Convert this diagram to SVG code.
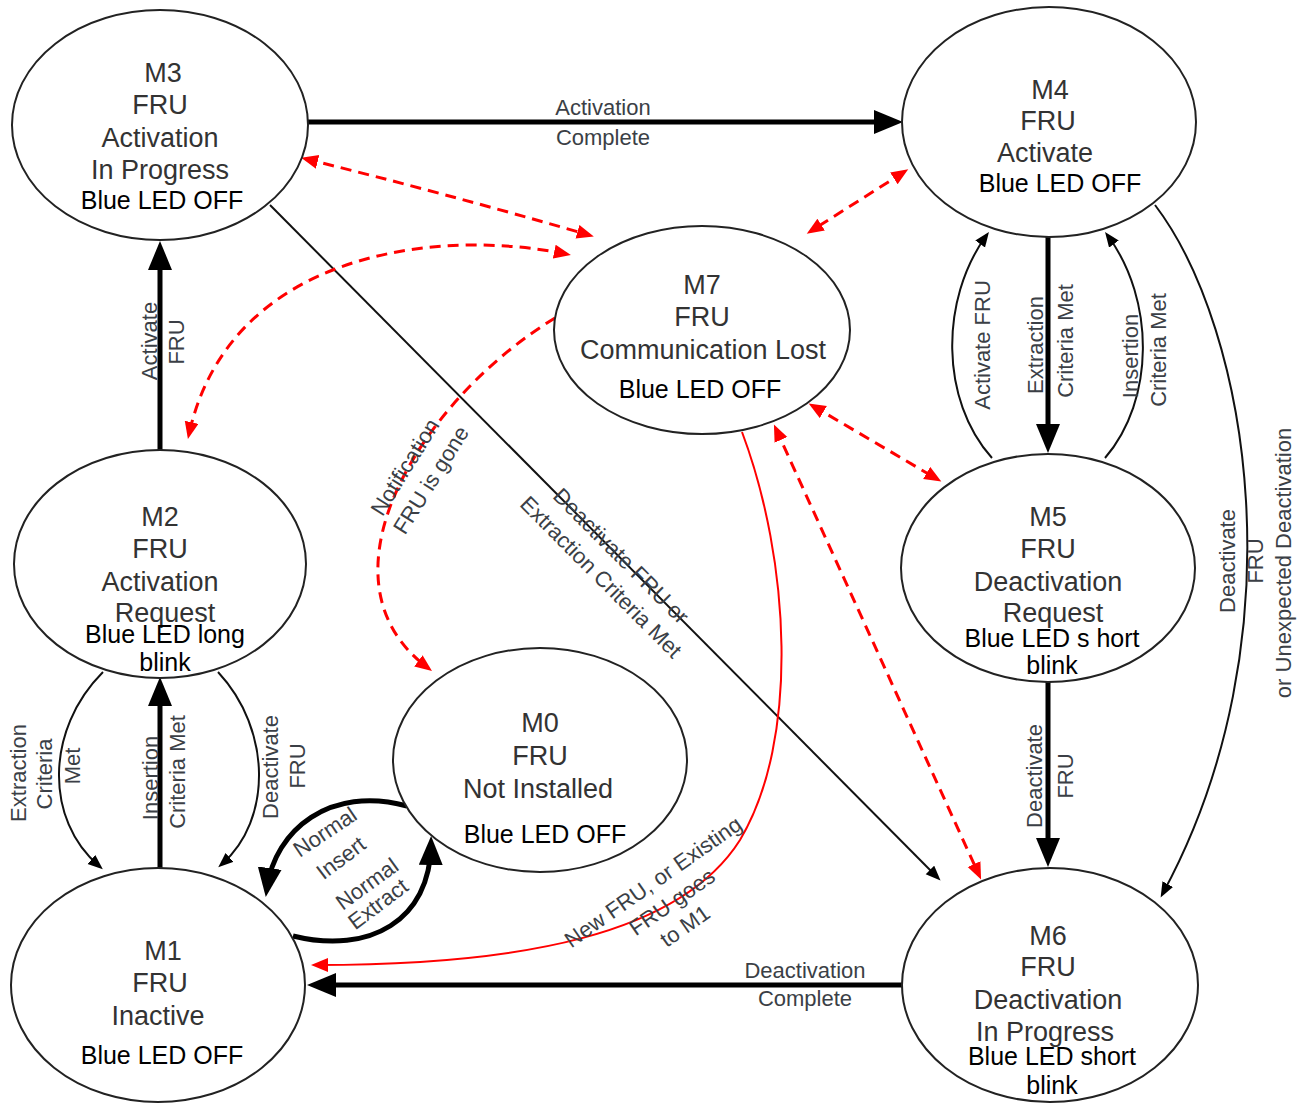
<svg xmlns="http://www.w3.org/2000/svg" width="1299" height="1103" viewBox="0 0 1299 1103">
<defs>
<marker id="thick" markerUnits="userSpaceOnUse" markerWidth="30" markerHeight="26" viewBox="0 0 30 26" refX="20" refY="12" orient="auto"><path d="M0,0 L29,12 L0,24 z" fill="#000"/></marker>
<marker id="thin" markerUnits="userSpaceOnUse" markerWidth="16" markerHeight="14" viewBox="0 0 16 14" refX="10" refY="6" orient="auto"><path d="M0,0 L15,6 L0,12 z" fill="#000"/></marker>
<marker id="red" markerUnits="userSpaceOnUse" markerWidth="18" markerHeight="16" viewBox="0 0 18 16" refX="12" refY="7" orient="auto-start-reverse"><path d="M0,0 L17,7 L0,14 z" fill="#f00"/></marker>
</defs>
<style>
.node ellipse{fill:#fff;stroke:#222;stroke-width:2}
.t{font-family:"Liberation Sans",Arial,sans-serif;font-size:27px;fill:#333;text-anchor:middle}
.led{font-family:"Liberation Sans",Arial,sans-serif;font-size:25px;fill:#000;text-anchor:middle}
.lb{font-family:"Liberation Sans",Arial,sans-serif;font-size:22px;fill:#3b3f46;text-anchor:middle;dominant-baseline:central}
.k{fill:none;stroke:#000;stroke-width:5}
.n{fill:none;stroke:#111;stroke-width:2}
.rd{fill:none;stroke:#f00;stroke-width:3;stroke-dasharray:11 7}
.rs{fill:none;stroke:#f00;stroke-width:2}
</style>
<rect width="1299" height="1103" fill="#fff"/>
<g id="connectors">
<path class="k" d="M307 122 L894 122" marker-end="url(#thick)"/>
<path class="k" d="M160 450 L160 250" marker-end="url(#thick)"/>
<path class="k" d="M160 868 L160 686" marker-end="url(#thick)"/>
<path class="k" d="M1048 237 L1048 444" marker-end="url(#thick)"/>
<path class="k" d="M1048 682 L1048 858" marker-end="url(#thick)"/>
<path class="k" d="M902 985 L316 985" marker-end="url(#thick)"/>
<path class="k" d="M407 806 C330 785 275 830 267 888" marker-end="url(#thick)"/>
<path class="k" d="M293 936 C370 955 430 920 431 845" marker-end="url(#thick)"/>
<path class="n" d="M103 672 C45 730 45 820 99 866" marker-end="url(#thin)"/>
<path class="n" d="M218 672 C272 730 272 820 222 864" marker-end="url(#thin)"/>
<path class="n" d="M270 205 L937 877" marker-end="url(#thin)"/>
<path class="n" d="M992 458 C940 400 940 300 986 236" marker-end="url(#thin)"/>
<path class="n" d="M1105 458 C1155 400 1155 300 1108 236" marker-end="url(#thin)"/>
<path class="n" d="M1155 205 C1250 330 1300 640 1163 893" marker-end="url(#thin)"/>
<path class="rd" d="M306 159 Q440 192 589 235" marker-start="url(#red)" marker-end="url(#red)"/>
<path class="rd" d="M566 254 C440 228 230 250 189 434" marker-start="url(#red)" marker-end="url(#red)"/>
<path class="rd" d="M904 172 L811 231" marker-start="url(#red)" marker-end="url(#red)"/>
<path class="rd" d="M813 406 L937 479" marker-start="url(#red)" marker-end="url(#red)"/>
<path class="rd" d="M776 429 L979 875" marker-start="url(#red)" marker-end="url(#red)"/>
<path class="rd" d="M555 318 C420 400 310 580 428 668" marker-end="url(#red)"/>
<path class="rs" d="M742 432 C790 560 800 740 740 840 C680 935 520 965 316 965" marker-end="url(#red)"/>
</g>
<g id="labels">
<text class="lb" x="603" y="107">Activation</text>
<text class="lb" x="603" y="137">Complete</text>
<text class="lb" transform="translate(149,341) rotate(-90)">Activate</text>
<text class="lb" transform="translate(176,342) rotate(-90)">FRU</text>
<text class="lb" transform="translate(18,773) rotate(-90)">Extraction</text>
<text class="lb" transform="translate(44,774) rotate(-90)">Criteria</text>
<text class="lb" transform="translate(72,766) rotate(-90)">Met</text>
<text class="lb" transform="translate(150,778) rotate(-90)">Insertion</text>
<text class="lb" transform="translate(177,772) rotate(-90)">Criteria Met</text>
<text class="lb" transform="translate(270,767) rotate(-90)">Deactivate</text>
<text class="lb" transform="translate(297,766) rotate(-90)">FRU</text>
<text class="lb" transform="translate(982,345) rotate(-90)">Activate FRU</text>
<text class="lb" transform="translate(1035,345) rotate(-90)">Extraction</text>
<text class="lb" transform="translate(1065,341) rotate(-90)">Criteria Met</text>
<text class="lb" transform="translate(1130,356) rotate(-90)">Insertion</text>
<text class="lb" transform="translate(1158,350) rotate(-90)">Criteria Met</text>
<text class="lb" transform="translate(1227,561) rotate(-90)">Deactivate</text>
<text class="lb" transform="translate(1255,561) rotate(-90)">FRU</text>
<text class="lb" transform="translate(1283,563) rotate(-90)">or Unexpected Deactivation</text>
<text class="lb" transform="translate(1034,776) rotate(-90)">Deactivate</text>
<text class="lb" transform="translate(1065,776) rotate(-90)">FRU</text>
<text class="lb" x="805" y="970">Deactivation</text>
<text class="lb" x="805" y="998">Complete</text>
<text class="lb" transform="translate(621,556) rotate(45)">Deactivate FRU or</text>
<text class="lb" transform="translate(601,577) rotate(45)">Extraction Criteria Met</text>
<text class="lb" transform="translate(405,467) rotate(-58)">Notification</text>
<text class="lb" transform="translate(431,480) rotate(-58)">FRU is gone</text>
<text class="lb" transform="translate(325,832) rotate(-34)">Normal</text>
<text class="lb" transform="translate(341,858) rotate(-37)">Insert</text>
<text class="lb" transform="translate(367,884) rotate(-36)">Normal</text>
<text class="lb" transform="translate(378,904) rotate(-37)">Extract</text>
<text class="lb" transform="translate(653,882) rotate(-35)">New FRU, or Existing</text>
<text class="lb" transform="translate(672,902) rotate(-35)">FRU goes</text>
<text class="lb" transform="translate(685,926) rotate(-35)">to M1</text>
</g>
<g id="M3" class="node"><ellipse cx="160" cy="125" rx="148" ry="115"/>
<text class="t" x="163" y="82">M3</text><text class="t" x="160" y="114">FRU</text><text class="t" x="160" y="147">Activation</text><text class="t" x="160" y="179">In Progress</text><text class="led" x="162" y="209">Blue LED OFF</text></g>
<g id="M4" class="node"><ellipse cx="1049" cy="122" rx="147" ry="115"/>
<text class="t" x="1050" y="99">M4</text><text class="t" x="1048" y="130">FRU</text><text class="t" x="1045" y="162">Activate</text><text class="led" x="1060" y="192">Blue LED OFF</text></g>
<g id="M7" class="node"><ellipse cx="702" cy="330" rx="148" ry="104"/>
<text class="t" x="702" y="294">M7</text><text class="t" x="702" y="326">FRU</text><text class="t" x="703" y="359">Communication Lost</text><text class="led" x="700" y="398">Blue LED OFF</text></g>
<g id="M2" class="node"><ellipse cx="160" cy="564" rx="146" ry="114"/>
<text class="t" x="160" y="526">M2</text><text class="t" x="160" y="558">FRU</text><text class="t" x="160" y="591">Activation</text><text class="t" x="165" y="622">Request</text><text class="led" x="165" y="643">Blue LED long</text><text class="led" x="165" y="671">blink</text></g>
<g id="M5" class="node"><ellipse cx="1048" cy="568" rx="147" ry="114"/>
<text class="t" x="1048" y="526">M5</text><text class="t" x="1048" y="558">FRU</text><text class="t" x="1048" y="591">Deactivation</text><text class="t" x="1053" y="622">Request</text><text class="led" x="1052" y="647">Blue LED s hort</text><text class="led" x="1052" y="674">blink</text></g>
<g id="M0" class="node"><ellipse cx="540" cy="760" rx="147" ry="112"/>
<text class="t" x="540" y="732">M0</text><text class="t" x="540" y="765">FRU</text><text class="t" x="538" y="798">Not Installed</text><text class="led" x="545" y="843">Blue LED OFF</text></g>
<g id="M1" class="node"><ellipse cx="158" cy="985" rx="147" ry="117"/>
<text class="t" x="163" y="960">M1</text><text class="t" x="160" y="992">FRU</text><text class="t" x="158" y="1025">Inactive</text><text class="led" x="162" y="1064">Blue LED OFF</text></g>
<g id="M6" class="node"><ellipse cx="1050" cy="985" rx="148" ry="117"/>
<text class="t" x="1048" y="945">M6</text><text class="t" x="1048" y="976">FRU</text><text class="t" x="1048" y="1009">Deactivation</text><text class="t" x="1045" y="1041">In Progress</text><text class="led" x="1052" y="1065">Blue LED short</text><text class="led" x="1052" y="1094">blink</text></g>
</svg>
